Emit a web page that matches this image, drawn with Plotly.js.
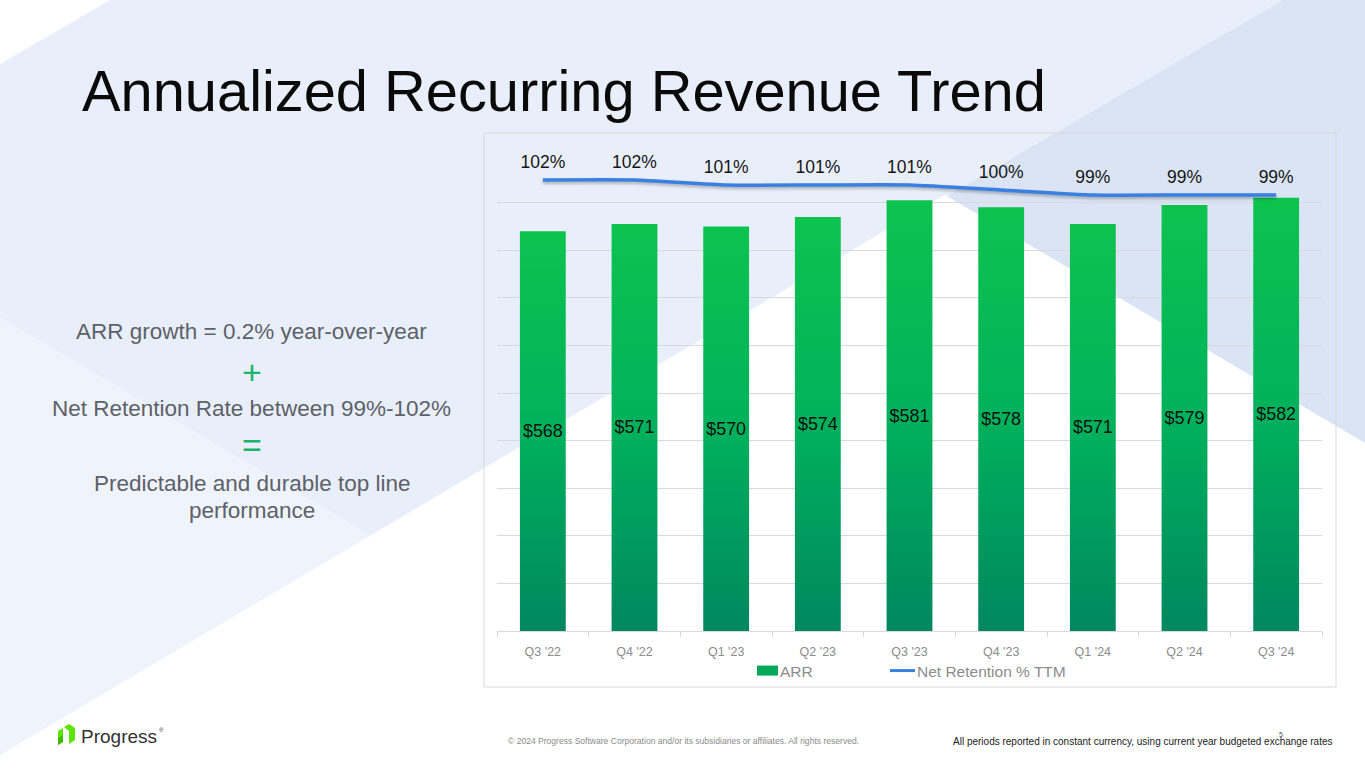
<!DOCTYPE html>
<html>
<head>
<meta charset="utf-8">
<script src="https://cdn.plot.ly/plotly-3.0.1.min.js"></script>
<style>
  html, body { margin: 0; padding: 0; width: 1365px; height: 768px; overflow: hidden; background: #ffffff; }
  #bg { position: absolute; left: 0; top: 0; }
  #chart { position: absolute; left: 0; top: 0; width: 1365px; height: 768px; }
</style>
</head>
<body>
<svg id="bg" width="1365" height="768" viewBox="0 0 1365 768">
  <rect x="0" y="0" width="1365" height="768" fill="#E9EFFA"/>
  <polygon points="0,0 110,0 0,64" fill="#FFFFFF"/>
  <polygon points="0,317 430,570 0,768" fill="#EEF3FC"/>
  <polygon points="946,197 1283,0 1365,0 1365,443" fill="#DAE4F4"/>
  <polygon points="945,195 1365,443 1365,768 0,768 0,755" fill="#FFFFFF"/>
  <g>
    <polygon points="58,731 63,728 63,742 58,745" fill="#5CE500"/>
    <polygon points="64,727 69,724 75,728 75,740 69,744 69,731" fill="#5CE500"/>
    <polygon points="58,738 63,735 63,742 58,745" fill="#44B800"/>
  </g>
</svg>
<div id="chart"></div>
<script>
// ---- data ----
const quarters = ["Q3 '22", "Q4 '22", "Q1 '23", "Q2 '23", "Q3 '23", "Q4 '23", "Q1 '24", "Q2 '24", "Q3 '24"];
const arrValues = [568, 571, 570, 574, 581, 578, 571, 579, 582];
const netRetention = [102, 102, 101, 101, 101, 100, 99, 99, 99];
const seriesNames = ["ARR", "Net Retention % TTM"];
const arrAxisRange = [400, 600];

const titleText = "Annualized Recurring Revenue Trend";
const sideLines = ["ARR growth = 0.2% year-over-year", "+", "Net Retention Rate between 99%-102%", "=", "Predictable and durable top line", "performance"];
const footerLeft = "© 2024 Progress Software Corporation and/or its subsidiaries or affiliates. All rights reserved.";
const footerRight = "All periods reported in constant currency, using current year budgeted exchange rates";

// ---- page geometry helpers (plot area 497..1322 x 155..631) ----
const ML = 497, MR = 43, MT = 155, MB = 137, W = 1365, H = 768;
const PW = W - ML - MR, PH = H - MT - MB;
const px = x => (x - ML) / PW;
const py = y => (H - MB - y) / PH;

const FONT = "Liberation Sans, Arial, sans-serif";
const sideColor = "#5d6168";
const green = "#1BB46B";

const annotations = [
  {text: titleText, x: px(80), y: py(91), xanchor: "left", yanchor: "middle",
   font: {family: FONT, size: 57.8, color: "#0a0a0a"}},
  {text: sideLines[0], x: px(252), y: py(331), font: {family: FONT, size: 22.5, color: sideColor}},
  {text: sideLines[1], x: px(252), y: py(372), font: {family: FONT, size: 34, color: green}},
  {text: sideLines[2], x: px(252), y: py(408), font: {family: FONT, size: 22.5, color: sideColor}},
  {text: sideLines[3], x: px(252), y: py(445), font: {family: FONT, size: 34, color: green}},
  {text: sideLines[4], x: px(252), y: py(483), font: {family: FONT, size: 22.5, color: sideColor}},
  {text: sideLines[5], x: px(252), y: py(510), font: {family: FONT, size: 22.5, color: sideColor}},
  {text: "Progress", x: px(79), y: py(736), xanchor: "left", font: {family: FONT, size: 19, color: "#333333"}},
  {text: "®", x: px(157), y: py(730), xanchor: "left", font: {family: FONT, size: 6, color: "#333333"}},
  {text: footerLeft, x: px(683), y: py(741), font: {family: FONT, size: 8.55, color: "#8a8a8a"}},
  {text: footerRight, x: px(1142), y: py(741), font: {family: FONT, size: 10, color: "#222222"}},
  {text: "5", x: px(1281), y: py(734), font: {family: FONT, size: 7, color: "#555555"}}
].map(a => Object.assign({xref: "paper", yref: "paper", showarrow: false, xanchor: "center", yanchor: "middle"}, a));

const traces = [
  {
    type: "bar", name: seriesNames[0], x: quarters,
    base: arrAxisRange[0],
    y: arrValues.map(v => v - arrAxisRange[0]),   // bars drawn from the axis floor up to each ARR value
    customdata: arrValues,
    marker: {color: "#03A85A"},
    texttemplate: "$%{customdata}", textposition: "inside", insidetextanchor: "middle",
    textangle: 0,
    textfont: {family: FONT, size: 18, color: "#111111"},
    hoverinfo: "skip"
  },
  {
    type: "scatter", mode: "lines+markers+text", name: seriesNames[1], x: quarters, y: netRetention,
    yaxis: "y2",
    line: {color: "#3A80E2", width: 3.5, shape: "spline", smoothing: 0.5},
    marker: {size: 10, opacity: 0, color: "#3A80E2"},
    texttemplate: "%{y}%", textposition: "top center",
    textfont: {family: FONT, size: 17.5, color: "#151515"},
    cliponaxis: false, hoverinfo: "skip"
  }
];

const layout = {
  width: W, height: H,
  margin: {l: ML, r: MR, t: MT, b: MB, pad: 0},
  paper_bgcolor: "rgba(0,0,0,0)", plot_bgcolor: "rgba(0,0,0,0)",
  font: {family: FONT},
  bargap: 0.5,
  barmode: "overlay",
  uniformtext: {mode: false},
  showlegend: true,
  legend: {orientation: "h", x: 0.503, xanchor: "center", y: py(671), yanchor: "middle",
           font: {family: FONT, size: 15.5, color: "#8c8c8c"}, bgcolor: "rgba(0,0,0,0)"},
  xaxis: {
    type: "category", range: [-0.5, quarters.length - 0.5], autorange: false,
    showgrid: false, zeroline: false,
    showline: true, linecolor: "#D9D9D9", linewidth: 1,
    ticks: "outside", tickson: "boundaries", ticklen: 5, tickcolor: "#D9D9D9",
    ticklabelstandoff: 9,
    tickfont: {family: FONT, size: 12.5, color: "#8c8c8c"}
  },
  yaxis: {
    range: arrAxisRange, dtick: 20, showgrid: true, gridcolor: "#D9D9D9", gridwidth: 1,
    showticklabels: false, zeroline: false, showline: false, ticks: ""
  },
  yaxis2: {
    range: [11.8, 107], overlaying: "y", side: "right", visible: false, showgrid: false
  },
  shapes: [
    {type: "rect", xref: "paper", yref: "paper", x0: px(484), x1: px(1336), y0: py(687), y1: py(133),
     line: {color: "#D9D9D9", width: 1}, fillcolor: "rgba(0,0,0,0)", layer: "below"}
  ],
  annotations: annotations
};

Plotly.newPlot("chart", traces, layout, {displayModeBar: false, staticPlot: true}).then(gd => {
  const svgNS = "http://www.w3.org/2000/svg";
  const svg = gd.querySelector(".main-svg");
  let defs = svg.querySelector("defs");
  if (!defs) { defs = document.createElementNS(svgNS, "defs"); svg.insertBefore(defs, svg.firstChild); }
  const grad = document.createElementNS(svgNS, "linearGradient");
  grad.setAttribute("id", "arrGrad");
  grad.setAttribute("x1", "0"); grad.setAttribute("y1", "0");
  grad.setAttribute("x2", "0"); grad.setAttribute("y2", "1");
  [["0", "#0DC34F"], ["0.5", "#00B15C"], ["1", "#00875F"]].forEach(([o, c]) => {
    const s = document.createElementNS(svgNS, "stop");
    s.setAttribute("offset", o); s.setAttribute("stop-color", c);
    grad.appendChild(s);
  });
  defs.appendChild(grad);
  gd.querySelectorAll(".barlayer .point path").forEach(p => { p.style.fill = "url(#arrGrad)"; });

  // soft shadow under the retention line, as in the reference
  gd.querySelectorAll(".scatterlayer .js-line").forEach(l => {
    l.style.filter = "drop-shadow(0px 2px 1.5px rgba(0,0,0,0.28))";
  });

  // legend styling: wide swatch for ARR, short line, tight text gaps
  const lg = gd.querySelector("g.legend");
  lg.querySelectorAll("[clip-path]").forEach(el => el.removeAttribute("clip-path"));
  const items = lg.querySelectorAll(".traces");
  const setTextX = (item, x) => {
    item.querySelectorAll("text.legendtext").forEach(t => {
      t.setAttribute("x", x);
      t.querySelectorAll("tspan").forEach(ts => { if (ts.hasAttribute("x")) ts.setAttribute("x", x); });
    });
  };
  const getY = item => {
    const m = (item.getAttribute("transform") || "").match(/translate\(([-\d.]+)[ ,]*([-\d.]*)\)/);
    return m ? (parseFloat(m[2]) || 0) : 0;
  };
  let swatch = null;
  if (items[0]) {
    const p = items[0].querySelector(".legendpoints path");
    if (p) {
      p.setAttribute("d", "M14,-5h21v10h-21z");
      p.removeAttribute("transform");
      p.style.fill = "#00A85A"; p.style.stroke = "none";
      swatch = p;
    }
    setTextX(items[0], 37);
    items[0].setAttribute("transform", `translate(0,${getY(items[0])})`);
  }
  if (items[1]) {
    const l = items[1].querySelector(".legendlines path");
    if (l) { l.setAttribute("d", "M10,0h25"); l.style.strokeWidth = "3px"; }
    items[1].querySelectorAll(".legendsymbols path, .legendpoints path").forEach(s => { s.style.display = "none"; });
    setTextX(items[1], 37);
    items[1].setAttribute("transform", `translate(137,${getY(items[1])})`);
  }
  if (swatch) {
    const r = swatch.getBoundingClientRect();
    const dx = 757 - r.left;
    const m = (lg.getAttribute("transform") || "").match(/translate\(([-\d.]+)[ ,]*([-\d.]*)\)/);
    if (m) lg.setAttribute("transform", `translate(${parseFloat(m[1]) + dx},${parseFloat(m[2]) || 0})`);
  }
});
</script>
</body>
</html>
